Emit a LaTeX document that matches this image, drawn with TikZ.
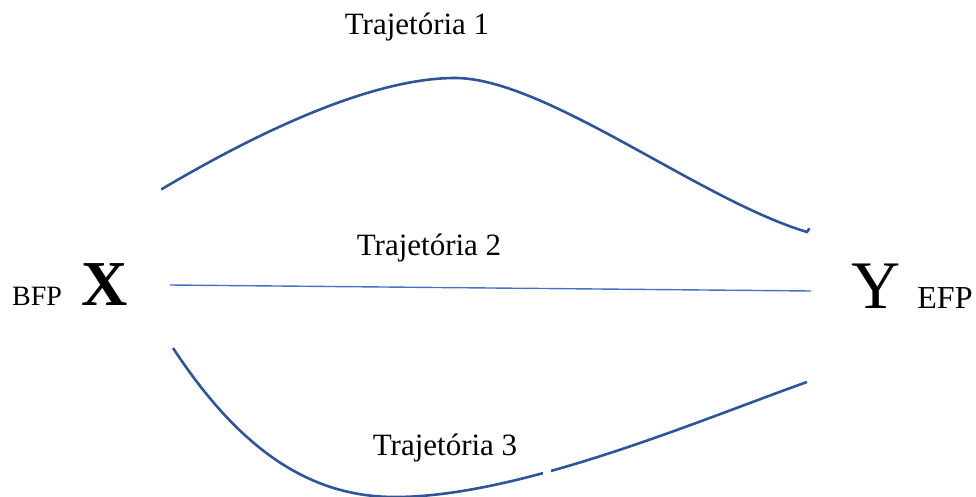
\documentclass[tikz,border=0pt]{standalone}
\usepackage{fontspec}
\setmainfont{Liberation Serif}
\usepackage{tikz}
\usetikzlibrary{positioning,calc}
\definecolor{pathblue}{RGB}{47,85,151}
\definecolor{lightblue}{RGB}{68,114,196}
\tikzset{
  pathline/.style={line width=2.6pt,draw=pathblue,line cap=round},
  straightline/.style={line width=1.4pt,draw=lightblue},
  trajlabel/.style={anchor=base,inner sep=0pt,font=\fontsize{31}{36}\selectfont},
  pointlabel/.style={anchor=base,inner sep=0pt,font=\fontsize{64}{70}\selectfont},
  sidelabel/.style={anchor=base,inner sep=0pt}
}

\begin{document}
\begin{tikzpicture}[x=1pt,y=-1pt]
  \useasboundingbox (0,0) rectangle (976,497);

  % endpoints
  \node[pointlabel,font=\fontsize{64}{70}\selectfont\bfseries] (X) at (105,305) {X};
  \node[pointlabel,font=\fontsize{68}{74}\selectfont] (Y) at (876,308) {Y};
  \node[sidelabel,font=\fontsize{28}{32}\selectfont] (bfp) at (37,305) {BFP};
  \node[sidelabel,font=\fontsize{32}{36}\selectfont] (efp) at (945,308) {EFP};

  \coordinate (s1) at (162,189);
  \coordinate (m1) at (455,78);
  \coordinate (e1) at (807,232);
  \coordinate (s2) at (170,285);
  \coordinate (e2) at (811,291);
  \coordinate (s3) at (173,348);
  \coordinate (m3) at (395,497);
  \coordinate (e3) at (807,382);

  % trajectories
  \draw[pathline] (s1) .. controls (265,128) and (375,78) .. (m1)
    .. controls (545,78) and (700,200) .. (e1) -- (809,229);
  \draw[straightline] (s2) -- (e2);
  \draw[pathline,line cap=butt] (s3) .. controls (240,450) and (310,497) .. (m3)
    .. controls (520,497) and (700,420) .. (e3);
  \fill[white] (543,462) rectangle (551,482);

  \node[trajlabel] (t1) at (417,35) {Trajetória 1};
  \node[trajlabel] (t2) at (429,255) {Trajetória 2};
  \node[trajlabel] (t3) at (445,455) {Trajetória 3};
\end{tikzpicture}
\end{document}
